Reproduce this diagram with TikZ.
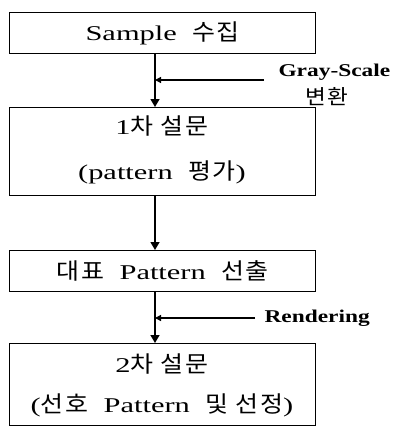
\documentclass[tikz,border=0pt]{standalone}
\usepackage{fontspec}
\setmainfont{Liberation Serif}[FakeStretch=1.45,WordSpace=2]
\newfontfamily\kr{Noto Sans CJK KR}[FakeStretch=1.1,Scale=1.08,LetterSpace=8]
\newfontfamily\sidefont{Liberation Serif}[FakeStretch=1.3]
\usetikzlibrary{arrows.meta}
\begin{document}
\begin{tikzpicture}[x=1pt,y=-1pt,
  box/.style={draw,line width=1.4pt,minimum width=306pt,inner sep=0pt,anchor=north west},
  arr/.style={line width=1.4pt,-{Triangle[length=8pt,width=9pt]}},
  sarr/.style={line width=1.3pt,-{Triangle[length=6pt,width=6pt]}},
  main/.style={font=\fontsize{21}{24}\selectfont},
  side/.style={font=\fontsize{18}{20}\selectfont\sidefont\bfseries}]
\useasboundingbox (0,0) rectangle (400,428);
\node[box,minimum height=41pt,main] (b1) at (9,12) {Sample {\kr 수집}};
\node[box,minimum height=88pt] (b2) at (9,107) {};
\node[main] (t2a) at (162,126) {1{\kr 차 설문}};
\node[main] (t2b) at (162,172) {(pattern {\kr 평가})};
\node[box,minimum height=41pt,main] (b3) at (9,250) {{\kr 대표} Pattern {\kr 선출}};
\node[box,minimum height=82pt] (b4) at (9,343) {};
\node[main] (t4a) at (162,364) {2{\kr 차 설문}};
\node[main] (t4b) at (162,405) {({\kr 선호} Pattern {\kr 및 선정})};
\coordinate (s1) at (264,80);
\coordinate (j1) at (155,80);
\coordinate (s2) at (255,318);
\coordinate (j2) at (155,318);
\node[side,anchor=west] (l1) at (275,72) {Gray-Scale};
\node[font=\fontsize{19}{20}\selectfont\kr] (l1b) at (327,97) {변환};
\node[side,anchor=west] (l2) at (261,318) {Rendering};
\draw[arr] (b1.south -| j1) -- (b2.north -| j1);
\draw[arr] (b2.south -| j1) -- (b3.north -| j1);
\draw[arr] (b3.south -| j1) -- (b4.north -| j1);
\draw[sarr] (s1) -- (j1);
\draw[sarr] (s2) -- (j2);
\end{tikzpicture}
\end{document}
